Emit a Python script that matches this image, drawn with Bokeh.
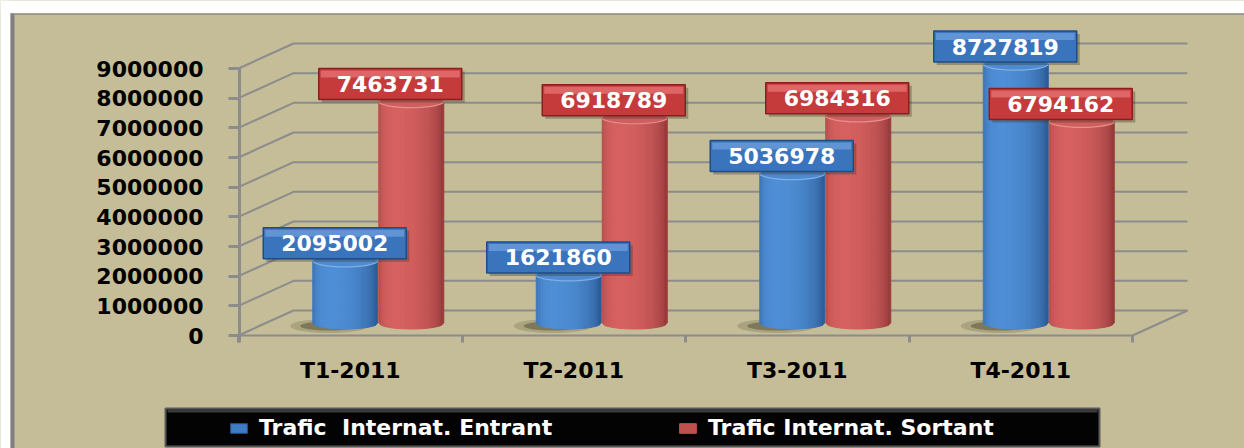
import numpy as np
from bokeh.plotting import figure
from bokeh.models import (Range1d, FixedTicker, NumeralTickFormatter, Legend, LegendItem)
from bokeh.core.properties import value
from bokeh.embed import file_html
from bokeh.resources import INLINE

# ---------------- data ----------------
categories = ["T1-2011", "T2-2011", "T3-2011", "T4-2011"]
entrant = [2095002, 1621860, 5036978, 8727819]
sortant = [7463731, 6918789, 6984316, 6794162]
series_names = ["Trafic  Internat. Entrant", "Trafic Internat. Sortant"]
y_ticks = [0, 1000000, 2000000, 3000000, 4000000, 5000000, 6000000, 7000000, 8000000, 9000000]

# ---------------- layout (pixels) ----------------
W, H = 1244, 448
PAGE = 0
ORIGIN_X, ORIGIN_Y = 238, 335      # front-left corner of the floor (page pixels)
CAT_PX = 223.5                      # pixels per category
K = (335 - 68) / 9000000            # pixels per unit of value
DEPTH_X, DEPTH_Y = 55, 25           # 3D depth offset

def X(px):  # page x -> data x
    return (px - ORIGIN_X) / CAT_PX

def Y(py):  # page y -> data y
    return (ORIGIN_Y - py) / K

def dx(px):
    return px / CAT_PX

def dy(px):
    return px / K

BG = "#C4BD97"
GRID = "#8C8C8C"
FONT = "DejaVu Sans"

p = figure(width=W, height=H,
           x_range=Range1d(X(PAGE), X(PAGE + W)),
           y_range=Range1d(Y(PAGE + H), Y(PAGE)),
           output_backend="svg", toolbar_location=None, title=None,
           min_border=0, min_border_left=0, min_border_right=0,
           min_border_top=0, min_border_bottom=0,
           background_fill_color=BG, border_fill_color=BG,
           outline_line_color=None)
p.grid.visible = False

# page frame: white margin + grey border
p.quad(left=X(PAGE), right=X(10), bottom=Y(PAGE + H), top=Y(PAGE), fill_color="white", line_color=None)
p.quad(left=X(PAGE), right=X(PAGE + W), bottom=Y(13), top=Y(PAGE), fill_color="white", line_color=None)
p.quad(left=X(10), right=X(14), bottom=Y(PAGE + H), top=Y(13), fill_color="#7F7F7F", line_color=None)
p.segment(x0=X(10), y0=Y(13.5), x1=X(PAGE + W), y1=Y(13.5), line_color="#8C8C8C", line_width=1.5)

ncat = len(categories)

# ---------------- back wall gridlines ----------------
gx, gy = [], []
for v in y_ticks:
    gx.append([0, dx(DEPTH_X), ncat + dx(DEPTH_X)])
    gy.append([v, v + dy(DEPTH_Y), v + dy(DEPTH_Y)])
p.multi_line(xs=gx, ys=gy, line_color=GRID, line_width=2)
# floor front edge and right edge
p.line(x=[0, ncat, ncat + dx(DEPTH_X)], y=[0, 0, dy(DEPTH_Y)], line_color=GRID, line_width=2)
# front vertical axis line
p.segment(x0=dx(1), y0=dy(-7), x1=dx(1), y1=y_ticks[-1] + dy(1), line_color=GRID, line_width=3)

# ---------------- cylinders ----------------
R_PX, E_PX = 32.5, 6.0
NS = 26
us = np.linspace(-1, 1, NS + 1)

def mix(c0, c1, t):
    t = float(np.clip(t, 0, 1))
    r = [int(round(a + (b - a) * t)) for a, b in zip(c0, c1)]
    return "#%02x%02x%02x" % tuple(r)

def intensity(u):
    th = np.arcsin(np.clip(u, -1, 1))
    I = 0.55 + 0.45 * np.cos(th + 0.45)
    I *= (1 - 0.18 * abs(u) ** 8)
    return I

series = [
    (entrant, -33, (78, 142, 214), (22, 58, 108), "#4D8AD0", "#7FB0E6"),
    (sortant, 33, (214, 96, 96), (110, 34, 34), "#CF5E5E", "#E89090"),
]

# shadows on the floor, left of the blue cylinders
sh_x = [i + 0.5 + dx(28 - 33 - 16) for i in range(ncat)]
sh_y = [dy(12.5 - 3)] * ncat
p.ellipse(x=sh_x, y=sh_y, width=78, height=14, width_units="screen", height_units="screen",
          fill_color="#857D5C", fill_alpha=0.4, line_color=None)
p.ellipse(x=sh_x, y=sh_y, width=58, height=9, width_units="screen", height_units="screen",
          fill_color="#514B33", fill_alpha=0.5, line_color=None)

px_, py_, pc_ = [], [], []
tx, ty, tc, tl = [], [], [], []
for vals, off, light, dark, topc, topl in series:
    for i, v in enumerate(vals):
        cx = i + 0.5 + dx(28 + off)
        base = dy(12.5)
        top = v + dy(12.5)
        for j in range(NS):
            uL, uR = us[j], us[j + 1]
            um = 0.5 * (uL + uR)
            bl = base - dy(E_PX * np.sqrt(max(0.0, 1 - uL ** 2)))
            br = base - dy(E_PX * np.sqrt(max(0.0, 1 - uR ** 2)))
            px_.append([cx + dx(R_PX * uL), cx + dx(R_PX * uR), cx + dx(R_PX * uR), cx + dx(R_PX * uL)])
            py_.append([bl, br, top, top])
            pc_.append(mix(dark, light, intensity(um)))
        tx.append(cx)
        ty.append(top)
        tc.append(topc)
        tl.append(topl)

p.patches(xs=px_, ys=py_, fill_color=pc_, line_color=pc_, line_width=1)
p.ellipse(x=tx, y=ty, width=2 * R_PX, height=2 * E_PX, width_units="screen", height_units="screen",
          fill_color=tc, line_color=tl, line_width=1.2)

# ---------------- data labels ----------------
label_style = [
    (entrant, -43.5, "#3A74BD", "#7AAAE2", "#1F4C86"),
    (sortant, 12, "#C53A3A", "#F08484", "#862020"),
]
for vals, loff, fill, hi, border in label_style:
    lx = [i + 0.5 + dx(28 + loff) for i in range(ncat)]
    ly = [v + dy(30) for v in vals]
    p.rect(x=[x + dx(3) for x in lx], y=[y - dy(3) for y in ly], width=143, height=31,
           width_units="screen", height_units="screen", fill_color="#3B3726", fill_alpha=0.35, line_color=None)
    p.rect(x=lx, y=ly, width=143, height=31, width_units="screen", height_units="screen",
           fill_color=fill, line_color=border, line_width=1.5)
    p.rect(x=lx, y=[y + dy(10) for y in ly], width=139, height=7, width_units="screen", height_units="screen",
           fill_color=hi, fill_alpha=0.6, line_color=None)
    p.text(x=lx, y=ly, text=[str(v) for v in vals], text_color="white",
           text_font=value(FONT), text_font_style="bold", text_font_size="22px",
           text_align="center", text_baseline="middle")

# ---------------- axes ----------------
yax = p.yaxis[0]
yax.fixed_location = 0
yax.ticker = FixedTicker(ticks=y_ticks, minor_ticks=[])
yax.formatter = NumeralTickFormatter(format="0")
yax.axis_line_color = None
yax.major_tick_in = 0
yax.major_tick_out = 10
yax.major_tick_line_color = GRID
yax.major_tick_line_width = 3
yax.minor_tick_line_color = None
yax.major_label_standoff = 25
yax.major_label_text_font = FONT
yax.major_label_text_font_style = "bold"
yax.major_label_text_font_size = "22px"
yax.major_label_text_color = "black"

xax = p.xaxis[0]
xax.fixed_location = 0
centers = [i + 0.5 for i in range(ncat)]
xax.ticker = FixedTicker(ticks=centers, minor_ticks=list(range(ncat + 1)))
xax.major_label_overrides = {c: lab for c, lab in zip(centers, categories)}
xax.axis_line_color = None
xax.major_tick_line_color = None
xax.major_tick_in = 0
xax.major_tick_out = 0
xax.minor_tick_in = 0
xax.minor_tick_out = 7
xax.minor_tick_line_color = GRID
xax.minor_tick_line_width = 3
xax.major_label_standoff = 15
xax.major_label_text_font = FONT
xax.major_label_text_font_style = "bold"
xax.major_label_text_font_size = "22px"
xax.major_label_text_color = "black"

# ---------------- legend ----------------
p.quad(left=X(165), right=X(1099), bottom=Y(446), top=Y(408), fill_color="#030303",
       line_color="#5A5A5A", line_width=2)
p.segment(x0=X(167), y0=Y(410.5), x1=X(1097), y1=Y(410.5), line_color="#3A3A3A", line_width=3)

hidden_x = [X(-500)]
rb = p.rect(x=hidden_x, y=[0], width=dx(1), height=dy(1), fill_color="#3F7CC4", line_color="#24528E")
rr = p.rect(x=hidden_x, y=[0], width=dx(1), height=dy(1), fill_color="#C0504D", line_color="#C0504D")
legend = Legend(items=[LegendItem(label=series_names[0], renderers=[rb]),
                       LegendItem(label=series_names[1], renderers=[rr])],
                location=(228, 8), orientation="horizontal",
                background_fill_alpha=0, border_line_color=None,
                padding=0, margin=0, spacing=30,
                glyph_width=21, glyph_height=12, label_standoff=10, label_width=388,
                label_text_color="white", label_text_font=FONT,
                label_text_font_style="bold", label_text_font_size="22px")
p.add_layout(legend)

open("out.html", "w").write(file_html(p, INLINE))
